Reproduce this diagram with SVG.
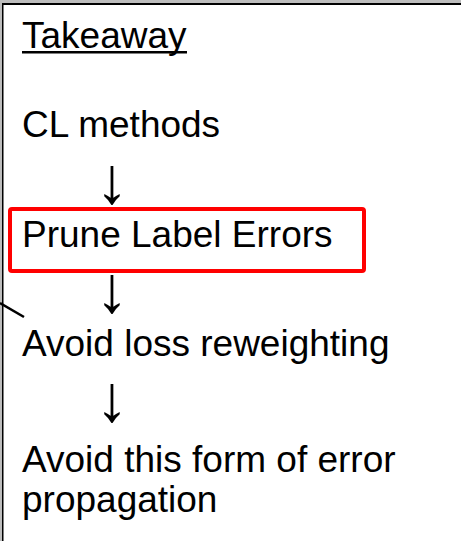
<svg xmlns="http://www.w3.org/2000/svg" width="461" height="541" viewBox="0 0 461 541">
<style>
.t{font-family:"Liberation Sans",Arial,sans-serif;font-size:37px;fill:#000}
.a{font-family:"Liberation Sans","DejaVu Sans",sans-serif;font-size:66px;fill:#000}
</style>
<rect x="0" y="0" width="461" height="541" fill="#fff"/>
<g id="frame">
<rect x="0" y="0" width="461" height="3" fill="#bdbdbd"/>
<rect x="0" y="0" width="2" height="541" fill="#bdbdbd"/>
<rect x="2" y="3" width="459" height="2" fill="#000"/>
<rect x="2" y="3" width="1.5" height="538" fill="#000"/>
<line x1="0" y1="303" x2="24" y2="317" stroke="#000" stroke-width="2.6"/>
</g>
<g id="title"><text class="t" x="22" y="48">Takeaway</text><rect x="22" y="51" width="165" height="2.5" fill="#000"/></g>
<g id="cl"><text class="t" x="22" y="137">CL methods</text></g>
<g id="prune"><rect x="10" y="209" width="354" height="62" rx="2" fill="none" stroke="#f00" stroke-width="4"/><text class="t" x="22" y="247">Prune Label Errors</text></g>
<g id="avoid1"><text class="t" x="22" y="356">Avoid loss reweighting</text></g>
<g id="avoid2"><text class="t" x="22" y="472">Avoid this form of error</text><text class="t" x="22" y="512">propagation</text></g>
<g id="connectors">
<text class="a" x="95.5" y="203">↓</text>
<text class="a" x="95.5" y="312">↓</text>
<text class="a" x="95.5" y="421">↓</text>
</g>
</svg>
